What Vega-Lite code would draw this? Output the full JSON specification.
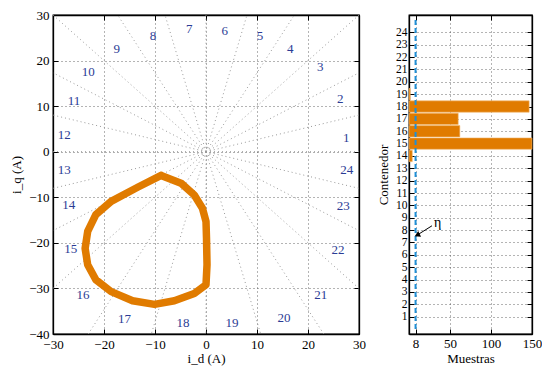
{
  "$schema": "https://vega.github.io/schema/vega-lite/v6.json",
  "background": "white",
  "padding": {"left": 10, "top": 8, "right": 5, "bottom": 0},
  "spacing": 9,
  "config": {
    "font": "Liberation Serif",
    "view": {"stroke": "black", "strokeWidth": 1.3},
    "axis": {
      "labelFont": "Liberation Serif", "labelFontSize": 13, "labelColor": "black",
      "titleFont": "Liberation Serif", "titleFontSize": 13, "titleFontWeight": "normal", "titleColor": "black",
      "domainColor": "black", "domainWidth": 1.3, "tickColor": "black", "tickSize": -5, "labelPadding": 8,
      "labelFlush": false, "labelOverlap": false,
      "gridColor": "#444", "gridDash": [1, 3], "gridOpacity": 0.8, "titlePadding": 2
    }
  },
  "datasets": {
    "radial": [
      {"a": 0, "ox": 0, "oy": 0, "ex": 30, "ey": 0}, {"a": 15, "ox": 0, "oy": 0, "ex": 30, "ey": 8.04}, {"a": 30, "ox": 0, "oy": 0, "ex": 30, "ey": 17.32},
      {"a": 45, "ox": 0, "oy": 0, "ex": 30, "ey": 30}, {"a": 60, "ox": 0, "oy": 0, "ex": 17.32, "ey": 30}, {"a": 75, "ox": 0, "oy": 0, "ex": 8.04, "ey": 30},
      {"a": 90, "ox": 0, "oy": 0, "ex": 0, "ey": 30}, {"a": 105, "ox": 0, "oy": 0, "ex": -8.04, "ey": 30}, {"a": 120, "ox": 0, "oy": 0, "ex": -17.32, "ey": 30},
      {"a": 135, "ox": 0, "oy": 0, "ex": -30, "ey": 30}, {"a": 150, "ox": 0, "oy": 0, "ex": -30, "ey": 17.32}, {"a": 165, "ox": 0, "oy": 0, "ex": -30, "ey": 8.04},
      {"a": 180, "ox": 0, "oy": 0, "ex": -30, "ey": 0}, {"a": 195, "ox": 0, "oy": 0, "ex": -30, "ey": -8.04}, {"a": 210, "ox": 0, "oy": 0, "ex": -30, "ey": -17.32},
      {"a": 225, "ox": 0, "oy": 0, "ex": -30, "ey": -30}, {"a": 240, "ox": 0, "oy": 0, "ex": -23.09, "ey": -40}, {"a": 255, "ox": 0, "oy": 0, "ex": -10.72, "ey": -40},
      {"a": 270, "ox": 0, "oy": 0, "ex": 0, "ey": -40}, {"a": 285, "ox": 0, "oy": 0, "ex": 10.72, "ey": -40}, {"a": 300, "ox": 0, "oy": 0, "ex": 23.09, "ey": -40},
      {"a": 315, "ox": 0, "oy": 0, "ex": 30, "ey": -30}, {"a": 330, "ox": 0, "oy": 0, "ex": 30, "ey": -17.32}, {"a": 345, "ox": 0, "oy": 0, "ex": 30, "ey": -8.04}
    ],
    "curve": [
      {"i": 0, "id": -8.8, "iq": -5.2}, {"i": 1, "id": -13.4, "iq": -7.8}, {"i": 2, "id": -18.6, "iq": -10.9},
      {"i": 3, "id": -21.6, "iq": -13.8}, {"i": 4, "id": -23.2, "iq": -17.5}, {"i": 5, "id": -23.7, "iq": -21.2},
      {"i": 6, "id": -23.2, "iq": -24.8}, {"i": 7, "id": -21.6, "iq": -28.1}, {"i": 8, "id": -18.6, "iq": -30.7},
      {"i": 9, "id": -14.4, "iq": -32.7}, {"i": 10, "id": -10.1, "iq": -33.5}, {"i": 11, "id": -6.2, "iq": -32.7},
      {"i": 12, "id": -2.3, "iq": -31.1}, {"i": 13, "id": 0.0, "iq": -29.2}, {"i": 14, "id": 0.2, "iq": -24.8},
      {"i": 15, "id": 0.1, "iq": -19.0}, {"i": 16, "id": 0.0, "iq": -15.3}, {"i": 17, "id": -0.7, "iq": -12.4},
      {"i": 18, "id": -2.3, "iq": -9.5}, {"i": 19, "id": -4.9, "iq": -6.9}, {"i": 20, "id": -8.8, "iq": -5.2}
    ],
    "sectors": [
      {"k": "1", "x": 27.5, "y": 3.1}, {"k": "2", "x": 26.3, "y": 11.6}, {"k": "3", "x": 22.4, "y": 18.5},
      {"k": "4", "x": 16.5, "y": 22.6}, {"k": "5", "x": 10.6, "y": 25.3}, {"k": "6", "x": 3.7, "y": 26.4},
      {"k": "7", "x": -3.3, "y": 27.0}, {"k": "8", "x": -10.4, "y": 25.5}, {"k": "9", "x": -17.5, "y": 22.6},
      {"k": "10", "x": -23.1, "y": 17.4}, {"k": "11", "x": -25.9, "y": 11.2}, {"k": "12", "x": -27.8, "y": 3.7},
      {"k": "13", "x": -27.8, "y": -4.0}, {"k": "14", "x": -26.9, "y": -11.6}, {"k": "15", "x": -26.5, "y": -21.3},
      {"k": "16", "x": -24.1, "y": -31.4}, {"k": "17", "x": -16.0, "y": -36.7}, {"k": "18", "x": -4.5, "y": -37.6},
      {"k": "19", "x": 5.1, "y": -37.6}, {"k": "20", "x": 15.3, "y": -36.5}, {"k": "21", "x": 22.5, "y": -31.4},
      {"k": "22", "x": 25.9, "y": -21.5}, {"k": "23", "x": 26.9, "y": -11.9}, {"k": "24", "x": 27.6, "y": -4.0}
    ],
    "bins": [
      {"bin": 14, "n": 4}, {"bin": 15, "n": 150}, {"bin": 16, "n": 62}, {"bin": 17, "n": 60},
      {"bin": 18, "n": 146.5}, {"bin": 19, "n": 1.5}
    ],
    "threshold": [{"eta": 8, "y0": 0, "y1": 25}],
    "eta": [{"label": "η", "x": 28, "y": 8.35, "hx": 10, "hy": 7.6, "tx": 35, "ty": 8.55}]
  },
  "hconcat": [
    {
      "width": 306,
      "height": 319,
      "resolve": {"axis": {"x": "independent", "y": "independent"}},
      "layer": [
        {
          "data": {"name": "radial"},
          "mark": {"type": "rule", "color": "#9a9a9a", "strokeDash": [1, 3], "strokeWidth": 1},
          "encoding": {
            "x": {"field": "ox", "type": "quantitative", "scale": {"domain": [-30, 30], "nice": false, "zero": false}, "axis": null},
            "y": {"field": "oy", "type": "quantitative", "scale": {"domain": [-40, 30], "nice": false, "zero": false}, "axis": null},
            "x2": {"field": "ex"},
            "y2": {"field": "ey"}
          }
        },
        {
          "data": {"name": "curve"},
          "mark": {"type": "line", "color": "#e07b00", "strokeWidth": 7.5, "strokeJoin": "round", "strokeCap": "round"},
          "encoding": {
            "x": {"field": "id", "type": "quantitative", "title": "i_d (A)",
                  "axis": {"orient": "bottom", "values": [-30, -20, -10, 0, 10, 20, 30], "grid": true, "labelPadding": 9, "titlePadding": 1}},
            "y": {"field": "iq", "type": "quantitative", "title": "i_q (A)",
                  "axis": {"orient": "left", "values": [-40, -30, -20, -10, 0, 10, 20, 30], "grid": true, "labelPadding": 9, "titlePadding": 5}},
            "order": {"field": "i", "type": "quantitative"}
          }
        },
        {
          "data": {"name": "sectors"},
          "mark": {"type": "text", "color": "#2b3c95", "fontSize": 13, "font": "Liberation Serif", "align": "center", "baseline": "middle"},
          "encoding": {
            "x": {"field": "x", "type": "quantitative",
                  "axis": {"orient": "top", "values": [-30, -20, -10, 0, 10, 20, 30], "labels": false, "title": null, "grid": false}},
            "y": {"field": "y", "type": "quantitative",
                  "axis": {"orient": "right", "values": [-40, -30, -20, -10, 0, 10, 20, 30], "labels": false, "title": null, "grid": false}},
            "text": {"field": "k"}
          }
        }
      ]
    },
    {
      "width": 123,
      "height": 319,
      "resolve": {"axis": {"x": "independent", "y": "independent"}},
      "layer": [
        {
          "data": {"name": "bins"},
          "mark": {"type": "bar", "orient": "horizontal", "color": "#e07b00", "size": 11.3, "stroke": "#f2b870", "strokeWidth": 0.6},
          "encoding": {
            "y": {"field": "bin", "type": "quantitative", "title": "Contenedor",
                  "scale": {"domain": [0, 25], "nice": false, "zero": false},
                  "axis": {"orient": "left", "values": [1,2,3,4,5,6,7,8,9,10,11,12,13,14,15,16,17,18,19,20,21,22,23,24], "grid": true, "labelPadding": 7, "labelFontSize": 11.5, "titlePadding": 5}},
            "x": {"field": "n", "type": "quantitative", "title": "Muestras",
                  "scale": {"domain": [0, 150], "nice": false},
                  "axis": {"orient": "bottom", "values": [8, 50, 100, 150], "grid": true}}
          }
        },
        {
          "data": {"name": "threshold"},
          "mark": {"type": "rule", "color": "#1f8fd6", "strokeWidth": 2, "strokeDash": [5, 3]},
          "encoding": {
            "x": {"field": "eta", "type": "quantitative", "axis": null},
            "y": {"field": "y0", "type": "quantitative", "axis": null},
            "y2": {"field": "y1"}
          }
        },
        {
          "data": {"name": "eta"},
          "mark": {"type": "rule", "color": "black", "strokeWidth": 1},
          "encoding": {
            "x": {"field": "x", "type": "quantitative", "axis": null},
            "y": {"field": "y", "type": "quantitative", "axis": null},
            "x2": {"field": "hx"},
            "y2": {"field": "hy"}
          }
        },
        {
          "data": {"name": "eta"},
          "mark": {"type": "point", "shape": "triangle-up", "filled": true, "color": "black", "size": 40, "angle": 243, "opacity": 1},
          "encoding": {
            "x": {"field": "hx", "type": "quantitative", "axis": null},
            "y": {"field": "hy", "type": "quantitative", "axis": null}
          }
        },
        {
          "data": {"name": "eta"},
          "mark": {"type": "text", "fontSize": 14, "font": "Liberation Serif", "color": "black", "align": "center", "baseline": "middle"},
          "encoding": {
            "x": {"field": "tx", "type": "quantitative",
                  "axis": {"orient": "top", "values": [8, 50, 100, 150], "labels": false, "title": null, "grid": false}},
            "y": {"field": "ty", "type": "quantitative",
                  "axis": {"orient": "right", "values": [1,2,3,4,5,6,7,8,9,10,11,12,13,14,15,16,17,18,19,20,21,22,23,24], "labels": false, "title": null, "grid": false}},
            "text": {"field": "label"}
          }
        }
      ]
    }
  ]
}
